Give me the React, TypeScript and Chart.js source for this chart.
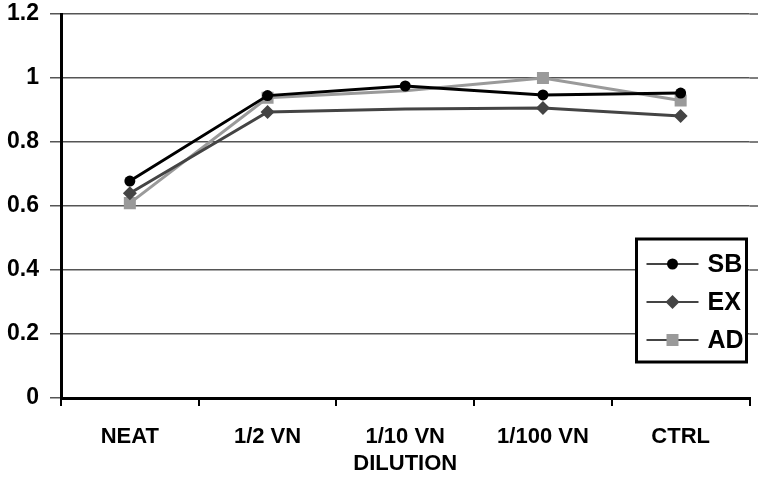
import React, { useEffect, useRef } from "react";
import { Chart, registerables } from "chart.js";

Chart.register(...registerables);

const categories = ["NEAT", "1/2 VN", "1/10 VN", "1/100 VN", "CTRL"];
const sbValues = [0.678, 0.945, 0.975, 0.947, 0.953];
const exValues = [0.64, 0.894, 0.903, 0.906, 0.881];
const adValues = [0.609, 0.938, 0.96, 1.0, 0.93];
const yTicks = [0, 0.2, 0.4, 0.6, 0.8, 1, 1.2];
const seriesNames = ["SB", "EX", "AD"];

const FONT = "'Liberation Sans', Arial, sans-serif";

const legendPlugin = {
  id: "boxLegend",
  beforeDatasetsDraw(chart: any) {
    // extend horizontal grid lines to the right edge like the reference
    const ctx = chart.ctx;
    const area = chart.chartArea;
    const ys = chart.scales.y;
    ctx.save();
    ctx.strokeStyle = "#555";
    ctx.lineWidth = 1.5;
    ys.ticks.forEach((t: any) => {
      if (t.value === 0) return;
      const y = ys.getPixelForValue(t.value);
      ctx.beginPath();
      ctx.moveTo(area.right, y);
      ctx.lineTo(chart.width, y);
      ctx.stroke();
    });
    ctx.restore();
  },
  afterDatasetsDraw(chart: any) {
    const ctx = chart.ctx;
    const area = chart.chartArea;
    const bx = area.right - 113;
    const by = area.top + 225;
    const bw = 110;
    const bh = 123;
    ctx.save();
    ctx.fillStyle = "#fff";
    ctx.fillRect(bx, by, bw, bh);
    ctx.lineWidth = 3;
    ctx.strokeStyle = "#000";
    ctx.strokeRect(bx, by, bw, bh);
    chart.data.datasets.forEach((ds: any, i: number) => {
      const y = by + 25 + i * 38;
      ctx.strokeStyle = "#444";
      ctx.lineWidth = 2;
      ctx.beginPath();
      ctx.moveTo(bx + 10, y);
      ctx.lineTo(bx + 62, y);
      ctx.stroke();
      ctx.fillStyle = ds.pointBackgroundColor;
      const cx = bx + 36;
      ctx.beginPath();
      if (ds.pointStyle === "circle") {
        ctx.arc(cx, y, 5.5, 0, Math.PI * 2);
      } else if (ds.pointStyle === "rectRot") {
        ctx.moveTo(cx, y - 7);
        ctx.lineTo(cx + 7, y);
        ctx.lineTo(cx, y + 7);
        ctx.lineTo(cx - 7, y);
        ctx.closePath();
      } else {
        ctx.rect(cx - 6, y - 6, 12, 12);
      }
      ctx.fill();
      ctx.fillStyle = "#000";
      ctx.font = `bold 25px ${FONT}`;
      ctx.textBaseline = "middle";
      ctx.textAlign = "left";
      ctx.fillText(ds.label, bx + 71, y + 1);
    });
    ctx.restore();
  },
};

export default function App() {
  const ref = useRef<HTMLCanvasElement>(null);
  useEffect(() => {
    if (!ref.current) return;
    const chart = new Chart(ref.current, {
      type: "line",
      data: {
        labels: categories,
        datasets: [
          {
            label: seriesNames[0],
            data: sbValues,
            borderColor: "#000",
            backgroundColor: "#000",
            pointBackgroundColor: "#000",
            pointBorderColor: "#000",
            borderWidth: 3,
            pointStyle: "circle",
            pointRadius: 5.5,
            pointBorderWidth: 0,
            tension: 0,
          },
          {
            label: seriesNames[1],
            data: exValues,
            borderColor: "#444",
            backgroundColor: "#444",
            pointBackgroundColor: "#444",
            pointBorderColor: "#444",
            borderWidth: 3,
            pointStyle: "rectRot",
            pointRadius: [7, 7, 0, 7, 7],
            pointBorderWidth: 0,
            tension: 0,
          },
          {
            label: seriesNames[2],
            data: adValues,
            borderColor: "#9a9a9a",
            backgroundColor: "#9a9a9a",
            pointBackgroundColor: "#9a9a9a",
            pointBorderColor: "#9a9a9a",
            borderWidth: 3,
            pointStyle: "rect",
            pointRadius: [8.5, 8.5, 0, 8.5, 8.5],
            pointBorderWidth: 0,
            tension: 0,
          },
        ],
      },
      options: {
        animation: false,
        responsive: false,
        maintainAspectRatio: false,
        layout: { padding: { top: 14, right: 7, left: 0, bottom: 0 } },
        plugins: {
          legend: { display: false },
          tooltip: { enabled: false },
        },
        scales: {
          x: {
            offset: true,
            grid: {
              offset: true,
              drawOnChartArea: false,
              drawTicks: true,
              tickLength: 8,
              color: "#000",
              lineWidth: 2,
            },
            border: { color: "#000", width: 3 },
            ticks: {
              color: "#000",
              padding: 18,
              font: { family: FONT, size: 22, weight: "bold" },
            },
            title: {
              display: true,
              text: "DILUTION",
              color: "#000",
              font: { family: FONT, size: 22, weight: "bold" },
              padding: { top: 4, bottom: 0 },
            },
            afterFit: (s: any) => {
              s.height = 79;
              s.paddingLeft = 0;
              s.paddingRight = 0;
            },
          },
          y: {
            min: 0,
            max: 1.2,
            afterBuildTicks: (s: any) => {
              s.ticks = yTicks.map((v) => ({ value: v }));
            },
            grid: {
              color: "#555",
              lineWidth: 1.5,
              tickLength: 11,
              drawTicks: true,
            },
            border: { color: "#000", width: 3 },
            ticks: {
              color: "#000",
              padding: 11,
              font: { family: FONT, size: 23, weight: "bold" },
              callback: (v: any) => String(Number(v)),
            },
            afterFit: (s: any) => {
              s.width = 61;
              s.paddingTop = 0;
              s.paddingBottom = 0;
            },
          },
        },
      },
      plugins: [legendPlugin],
    });
    return () => chart.destroy();
  }, []);
  return (
    <div style={{ position: "fixed", left: 0, top: 0, width: 758, height: 477, background: "#fff" }}>
      <canvas ref={ref} width={758} height={477} />
    </div>
  );
}
